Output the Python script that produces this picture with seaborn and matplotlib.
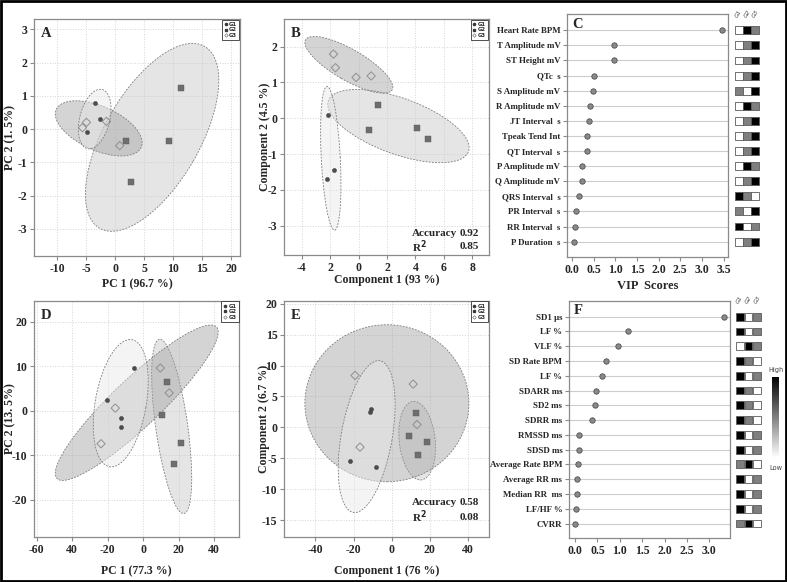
import numpy as np
import pandas as pd
import matplotlib
matplotlib.use("Agg")
import matplotlib.pyplot as plt
import seaborn as sns
from matplotlib.patches import Ellipse, Rectangle
from matplotlib.transforms import ScaledTranslation
from matplotlib.lines import Line2D

# ------------------------------------------------------------------ data
groups = ["G1", "G2", "G3"]

# Panel A : PCA (ECG)
a_g1_x = [-3.57, -2.59, -4.88]
a_g1_y = [0.77, 0.29, -0.10]
a_g2_x = [11.38, 9.31, 1.90, 2.64]
a_g2_y = [1.23, -0.36, -0.37, -1.58]
a_g3_x = [-5.00, -5.69, -1.55, 0.74]
a_g3_y = [0.20, 0.04, 0.23, -0.50]

# Panel B : PLS-DA (ECG)
b_g1_x = [-2.17, -1.73, -2.24]
b_g1_y = [0.09, -1.45, -1.70]
b_g2_x = [1.39, 0.76, 4.10, 4.87]
b_g2_y = [0.37, -0.33, -0.28, -0.59]
b_g3_x = [-1.77, -1.63, -0.18, 0.88]
b_g3_y = [1.79, 1.41, 1.14, 1.18]
b_accuracy, b_r2 = "0.92", "0.85"

# Panel D : PCA (HRV)
d_g1_x = [-5.2, -20.6, -12.6, -12.7]
d_g1_y = [9.5, 2.5, -1.7, -3.6]
d_g2_x = [13.2, 10.7, 21.2, 17.1]
d_g2_y = [6.5, -1.0, -7.2, -11.9]
d_g3_x = [9.6, 14.6, -15.8, -23.8]
d_g3_y = [9.6, 4.0, 0.6, -7.4]

# Panel E : PLS-DA (HRV)
e_g1_x = [-11.0, -11.1, -22.0, -8.2]
e_g1_y = [3.0, 2.55, -5.4, -6.4]
e_g2_x = [12.7, 8.9, 18.3, 13.6]
e_g2_y = [2.4, -1.45, -2.4, -4.4]
e_g3_x = [-19.2, 11.3, 13.3, -16.6]
e_g3_y = [8.4, 7.0, 0.45, -3.2]
e_accuracy, e_r2 = "0.58", "0.08"

# confidence ellipses: centre (data), width / height (px), angle (deg)
a_ellipses = {"G1": (-3.57, 0.30, 61, 30, 76),
              "G2": (6.33, -0.25, 210, 95, 60),
              "G3": (-2.88, 0.02, 93, 44, -24)}
b_ellipses = {"G1": (-1.96, -1.12, 144, 19, 93),
              "G2": (2.80, -0.22, 149, 56, -20),
              "G3": (-0.69, 1.49, 100, 31, -30)}
d_ellipses = {"G1": (-12.7, 1.7, 129, 51, 80),
              "G2": (16.0, -3.5, 176, 32, 98),
              "G3": (-3.7, 1.8, 220, 48, 43.5)}
e_ellipses = {"G1": (-13.1, -1.5, 154, 51, 80),
              "G2": (13.4, -2.15, 79, 36, 96),
              "G3": (-2.5, 3.9, 164, 157, 0)}

# Panel C : VIP scores (ECG)
c_features = ["Heart Rate BPM", "T Amplitude mV", "ST Height mV", "QTc  s",
              "S Amplitude mV", "R Amplitude mV", "JT Interval  s",
              "Tpeak Tend Int", "QT Interval  s", "P Amplitude mV",
              "Q Amplitude mV", "QRS Interval  s", "PR Interval  s",
              "RR Interval  s", "P Duration  s"]
c_vip = [3.46, 0.98, 0.98, 0.515, 0.49, 0.415, 0.39, 0.346, 0.346,
         0.22, 0.22, 0.16, 0.085, 0.07, 0.04]
# relative level per group (0 low, 1 mid, 2 high) for G1, G2, G3
c_levels = [[0, 2, 1], [0, 1, 2], [0, 1, 2], [0, 1, 2], [1, 0, 2],
            [0, 2, 1], [0, 1, 2], [0, 1, 2], [0, 1, 2], [0, 2, 1],
            [0, 1, 2], [2, 1, 0], [1, 0, 2], [2, 0, 1], [0, 1, 2]]

# Panel F : VIP scores (HRV)
f_features = ["SD1 \u00b5s", "LF %", "VLF %", "SD Rate BPM", "LF %",
              "SDARR ms", "SD2 ms", "SDRR ms", "RMSSD ms", "SDSD ms",
              "Average Rate BPM", "Average RR ms", "Median RR  ms",
              "LF/HF %", "CVRR"]
f_vip = [3.33, 1.18, 0.95, 0.70, 0.60, 0.476, 0.44, 0.38, 0.10, 0.10,
         0.06, 0.037, 0.037, 0.015, 0.01]
f_levels = [[2, 0, 1], [2, 0, 1], [0, 2, 1], [2, 1, 0], [2, 0, 1],
            [2, 1, 0], [2, 1, 0], [2, 1, 0], [2, 0, 1], [2, 0, 1],
            [1, 2, 0], [2, 0, 1], [2, 0, 1], [2, 0, 1], [1, 2, 0]]

# ------------------------------------------------------------------ style
sns.set_theme(style="white")
plt.rcParams["font.family"] = ["Liberation Serif", "DejaVu Serif"]
plt.rcParams["font.weight"] = "bold"
plt.rcParams["axes.labelweight"] = "bold"
plt.rcParams["axes.unicode_minus"] = False

W, H, DPI = 787, 582, 100
fig = plt.figure(figsize=(W / DPI, H / DPI), dpi=DPI)


def px_axes(l, t, r, b):
    return fig.add_axes([l / W, 1 - b / H, (r - l) / W, (b - t) / H])


ELL_FC = {"G1": (0.91, 0.91, 0.91, 0.45),
          "G2": (0.78, 0.78, 0.78, 0.45),
          "G3": (0.63, 0.63, 0.63, 0.45)}
SPINE = "#8a8a8a"


def style_frame(ax):
    for s in ax.spines.values():
        s.set_color(SPINE)
        s.set_linewidth(0.9)
    ax.tick_params(axis="both", which="major", length=3, width=0.8,
                   color=SPINE, labelsize=8.5, pad=2, bottom=True, left=True)


def scatter_panel(ax, pts, ells, xlim, ylim, xt, xtl, yt, ytl, xlabel,
                  ylabel, letter, xlab_y, ylab_x, stats=None, stat_y=None):
    for g in ["G2", "G3", "G1"]:
        cx, cy, w, h, ang = ells[g]
        tr = fig.dpi_scale_trans + ScaledTranslation(cx, cy, ax.transData)
        e = Ellipse((0, 0), w / DPI, h / DPI, angle=ang, transform=tr,
                    facecolor=ELL_FC[g], edgecolor="#7d7d7d",
                    linestyle=(0, (2.2, 1.6)), linewidth=0.6, zorder=1)
        ax.add_patch(e)
    (g1x, g1y), (g2x, g2y), (g3x, g3y) = pts
    sns.scatterplot(x=g1x, y=g1y, ax=ax, marker="o", s=9, color="#4d4d4d",
                    edgecolor="#3a3a3a", linewidth=0.3, zorder=3)
    sns.scatterplot(x=g2x, y=g2y, ax=ax, marker="s", s=13, color="#6e6e6e",
                    edgecolor="#5a5a5a", linewidth=0.3, zorder=3)
    sns.scatterplot(x=g3x, y=g3y, ax=ax, marker="D", s=18, color="#8f8f8f",
                    facecolor="none", edgecolor="#8f8f8f", linewidth=0.7,
                    zorder=3)
    ax.set_xlim(*xlim)
    ax.set_ylim(*ylim)
    ax.set_xticks(xt)
    ax.set_xticklabels(xtl)
    ax.set_yticks(yt)
    ax.set_yticklabels(ytl)
    ax.grid(True, color="#d4d4d4", linestyle=":", linewidth=0.7)
    ax.set_axisbelow(True)
    style_frame(ax)
    ax.set_xlabel(xlabel, fontsize=8.5)
    ax.set_ylabel(ylabel, fontsize=8.5)
    ax.xaxis.set_label_coords(0.5, xlab_y)
    ax.yaxis.set_label_coords(ylab_x, 0.5)
    ax.text(0.03, 0.965, letter, transform=ax.transAxes, fontsize=10.5,
            fontweight="bold", va="top", ha="left")
    handles = [
        Line2D([], [], marker="o", ls="", ms=1.6, color="#3a3a3a"),
        Line2D([], [], marker="s", ls="", ms=1.6, color="#3a3a3a"),
        Line2D([], [], marker="D", ls="", ms=1.8, mfc="none",
               mec="#555555", mew=0.4),
    ]
    leg = ax.legend(handles, groups, loc="upper right", borderaxespad=0.15,
                    prop={"size": 3.8, "family": "DejaVu Sans"},
                    handlelength=0.5, handletextpad=0.4, borderpad=0.4,
                    labelspacing=0.1, fancybox=False, framealpha=1)
    leg.get_frame().set_edgecolor("#333333")
    leg.get_frame().set_linewidth(0.6)
    if stats is not None:
        acc, r2 = stats
        y1, y2 = stat_y
        ax.text(0.623, y1, "Accuracy", transform=ax.transAxes, fontsize=8,
                va="center", ha="left")
        ax.text(0.953, y1, acc, transform=ax.transAxes, fontsize=8,
                va="center", ha="right")
        ax.text(0.623, y2, "R$^{\\mathbf{2}}$", transform=ax.transAxes,
                fontsize=8, va="center", ha="left")
        ax.text(0.953, y2, r2, transform=ax.transAxes, fontsize=8,
                va="center", ha="right")


def vip_panel(ax, hax, feats, vip, levels, xlim, xticks, letter, xlabel,
              lab_y):
    n = len(feats)
    idx = np.arange(n)
    df = pd.DataFrame({"vip": vip, "row": idx})
    sns.scatterplot(data=df, x="vip", y="row", ax=ax, s=15, color="#8a8a8a",
                    edgecolor="#4f4f4f", linewidth=0.6, zorder=3)
    ax.set_xlim(*xlim)
    ax.set_ylim(n - 0.0, -1.08)
    ax.set_yticks(idx)
    ax.set_yticklabels(feats)
    ax.set_xticks(xticks)
    ax.set_xticklabels([f"{v:.1f}" for v in xticks])
    ax.grid(axis="y", color="#cdcdcd", linewidth=0.8)
    ax.grid(axis="x", visible=False)
    ax.set_axisbelow(True)
    style_frame(ax)
    ax.tick_params(axis="x", labelsize=8.5)
    ax.tick_params(axis="y", labelsize=6.4, length=3)
    ax.set_xlabel(xlabel, fontsize=9)
    ax.xaxis.set_label_coords(0.5, -0.098)
    ax.set_ylabel("")
    ax.text(0.03, 0.985, letter, transform=ax.transAxes, fontsize=10.5,
            fontweight="bold", va="top", ha="left")

    lv = np.array(levels)
    hdf = pd.DataFrame({"col": np.tile(np.arange(3), n),
                        "row": np.repeat(idx, 3),
                        "level": lv.ravel()})
    sns.scatterplot(data=hdf, x="col", y="row", hue="level", ax=hax,
                    marker="s", s=32, edgecolor="#5a5a5a", linewidth=0.6,
                    palette={0: "#ffffff", 1: "#7f7f7f", 2: "#000000"},
                    legend=False)
    hax.set_ylim(n - 0.0, -1.08)
    hax.set_xlim(-0.7, 2.7)
    hax.axis("off")
    for i, g in enumerate(groups):
        hax.text(i, lab_y, g, rotation=60, fontsize=4.2, ha="center",
                 va="center", color="#444444", family="DejaVu Sans",
                 fontweight="normal", fontstyle="italic", clip_on=False)


# ------------------------------------------------------------------ panels
axA = px_axes(34.3, 19, 240, 256)
scatter_panel(axA, [(a_g1_x, a_g1_y), (a_g2_x, a_g2_y), (a_g3_x, a_g3_y)],
              a_ellipses, (-14, 21.5), (-3.82, 3.31),
              [-10, -5, 0, 5, 10, 15, 20],
              ["-10", "-5", "0", "5", "10", "15", "20"],
              [-3, -2, -1, 0, 1, 2, 3], ["-3", "-2", "-1", "0", "1", "2", "3"],
              "PC 1 (96.7 %)", "PC 2 (1. 5%)", "A", -0.093, -0.089)

axB = px_axes(284.3, 19, 488.7, 255)
scatter_panel(axB, [(b_g1_x, b_g1_y), (b_g2_x, b_g2_y), (b_g3_x, b_g3_y)],
              b_ellipses, (-5.23, 9.15), (-3.82, 2.77),
              [-4, -2, 0, 2, 4, 6, 8], ["-4", "2", "0", "2", "4", "6", "8"],
              [-3, -2, -1, 0, 1, 2], ["-3", "-2", "-1", "0", "1", "2"],
              "Component 1 (93 %)", "Component 2 (4.5 %)", "B",
              -0.08, -0.065, stats=(b_accuracy, b_r2),
              stat_y=(0.093, 0.034))

axD = px_axes(34.3, 300.7, 239.3, 537.3)
scatter_panel(axD, [(d_g1_x, d_g1_y), (d_g2_x, d_g2_y), (d_g3_x, d_g3_y)],
              d_ellipses, (-61.4, 54.1), (-28.4, 24.7),
              [-60, -40, -20, 0, 20, 40],
              ["-60", "40", "-20", "0", "20", "40"],
              [-20, -10, 0, 10, 20], ["-20", "-10", "0", "10", "20"],
              "PC 1 (77.3 %)", "PC 2 (13. 5%)", "D", -0.117, -0.089)

axE = px_axes(284.3, 300.7, 488.7, 537.3)
scatter_panel(axE, [(e_g1_x, e_g1_y), (e_g2_x, e_g2_y), (e_g3_x, e_g3_y)],
              e_ellipses, (-56.3, 50.9), (-17.8, 20.5),
              [-40, -20, 0, 20, 40], ["-40", "-20", "0", "20", "40"],
              [-15, -10, -5, 0, 5, 10, 15, 20],
              ["-15", "-10", "-5", "0", "5", "10", "15", "20"],
              "Component 1 (76 %)", "Component 2 (6.7 %)", "E",
              -0.117, -0.07, stats=(e_accuracy, e_r2),
              stat_y=(0.146, 0.085))

axC = px_axes(567.3, 14, 728.3, 256.7)
hC = px_axes(733, 14, 761, 256.7)
vip_panel(axC, hC, c_features, c_vip, c_levels, (-0.11, 3.61),
          [0.0, 0.5, 1.0, 1.5, 2.0, 2.5, 3.0, 3.5], "C", "VIP  Scores",
          -1.12)

axF = px_axes(569.3, 300.7, 730, 538.3)
hF = px_axes(734, 300.7, 763, 538.3)
vip_panel(axF, hF, f_features, f_vip, f_levels, (-0.127, 3.46),
          [0.0, 0.5, 1.0, 1.5, 2.0, 2.5, 3.0], "F", "", -1.12)

# colour key
cax = px_axes(772.3, 376.7, 779.3, 458.3)
grad = np.linspace(1, 0, 200).reshape(-1, 1)
cax.imshow(grad, aspect="auto", cmap="gray_r", vmin=0, vmax=1)
cax.set_xticks([])
cax.set_yticks([])
for s in cax.spines.values():
    s.set_visible(False)
fig.text(775.8 / W, 1 - 370 / H, "High", fontsize=4.8, ha="center",
         va="center", family="DejaVu Sans", fontweight="normal",
         color="#444444")
fig.text(775.8 / W, 1 - 467.7 / H, "Low", fontsize=4.8, ha="center",
         va="center", family="DejaVu Sans", fontweight="normal",
         color="#444444")

# outer frame
fig.patches.append(Rectangle((0.0015, 0.002), 0.997, 0.996,
                             transform=fig.transFigure, fill=False,
                             edgecolor="black", linewidth=2))

fig.savefig("out.png", dpi=DPI)
